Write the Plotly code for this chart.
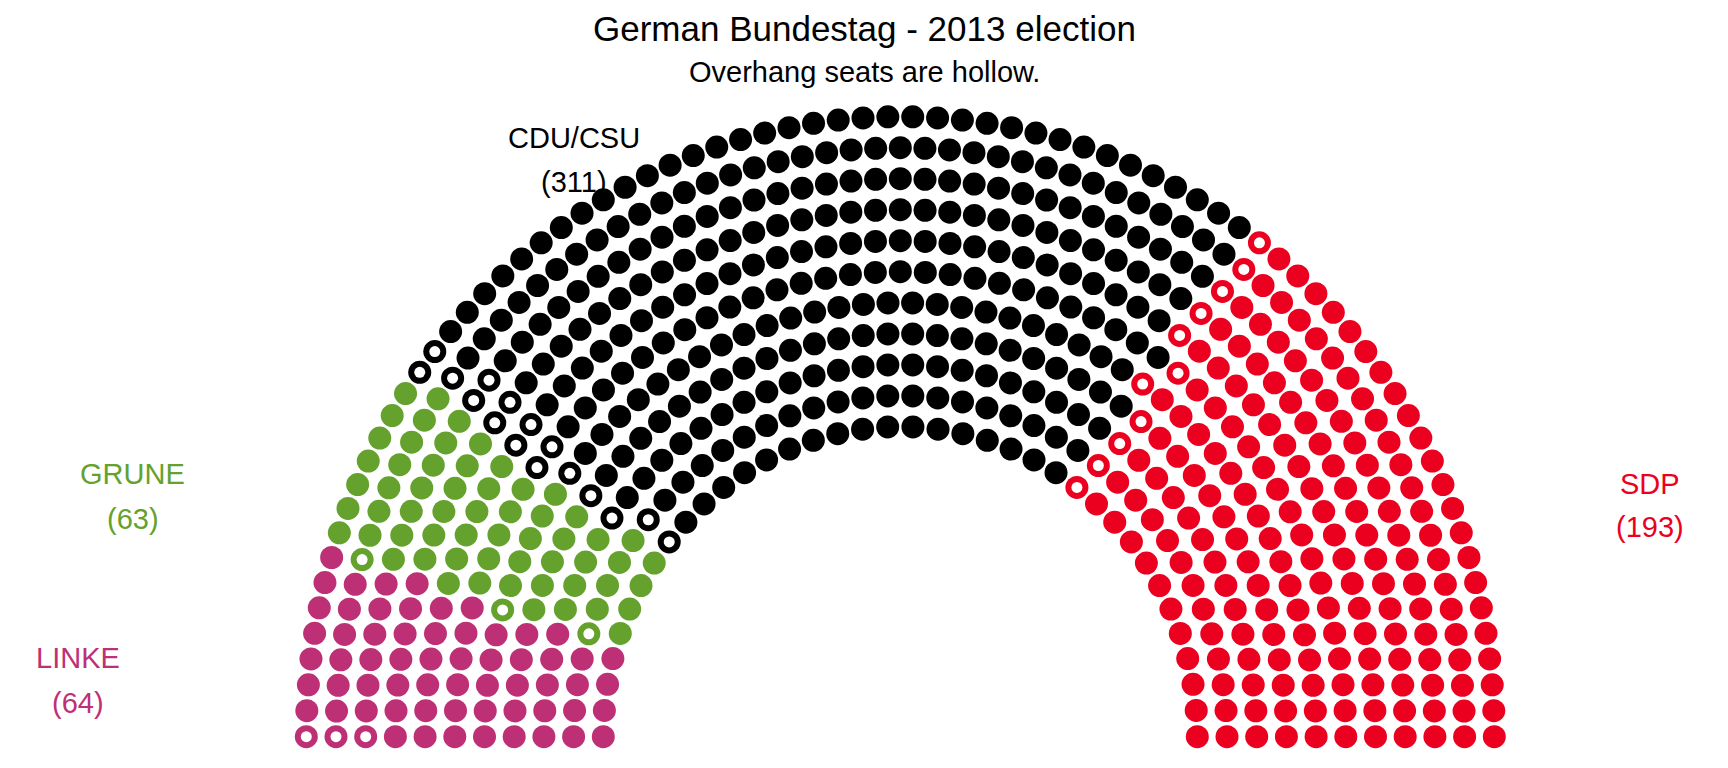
import numpy as np
import plotly.graph_objects as go

# ---- data ----
parties = ["LINKE", "GRUNE", "CDU/CSU", "SDP"]
seats = [64, 63, 311, 193]
overhang = [3, 3, 16, 11]
colors = ["#BE3075", "#64A12D", "#000000", "#EB001F"]
parl_rows = 11
title_text = "German Bundestag - 2013 election"
subtitle_text = "Overhang seats are hollow."

# label anchor positions in data units: (x, y_name, y_count)
label_pos = [(-2.769, 0.255, 0.109), (-2.584, 0.847, 0.702),
             (-1.099, 1.930, 1.788), (2.524, 0.815, 0.677)]


def calc_coordinates(N, M, limits=(1.0, 2.0), segment=0.5):
    radii = np.linspace(limits[0], limits[1], M)
    pts = []
    for i in range(M):
        c = int(round(float(N * radii[i] / radii[i:].sum())))
        theta = np.linspace(0, segment * 2 * np.pi, c)
        N -= c
        for t in theta:
            pts.append((radii[i] * np.cos(t), radii[i] * np.sin(t), i + 1, t))
    pts.sort(key=lambda p: (-p[3], -p[2]))
    return pts


pts = calc_coordinates(sum(seats), parl_rows)

fig = go.Figure()
idx = 0
hx, hy = [], []
for k, (p, n) in enumerate(zip(parties, seats)):
    sub = pts[idx: idx + n]
    idx += n
    xs = [q[0] for q in sub]
    ys = [q[1] for q in sub]
    fig.add_trace(go.Scatter(x=xs, y=ys, mode="markers", name=p,
                             marker=dict(size=23, color=colors[k], line=dict(width=0)),
                             showlegend=False, hoverinfo="skip"))
    hx += xs[:overhang[k]]
    hy += ys[:overhang[k]]

fig.add_trace(go.Scatter(x=hx, y=hy, mode="markers",
                         marker=dict(size=11, color="white", line=dict(width=0)),
                         showlegend=False, hoverinfo="skip"))

font_family = "Liberation Sans, Arial, Helvetica, sans-serif"
ann = []
for k, p in enumerate(parties):
    lx, ly1, ly2 = label_pos[k]
    ann.append(dict(x=lx, y=ly1, xref="x", yref="y", text=p, showarrow=False,
                    font=dict(size=29, color=colors[k], family=font_family),
                    xanchor="center", yanchor="middle"))
    ann.append(dict(x=lx, y=ly2, xref="x", yref="y", text=f"({seats[k]})", showarrow=False,
                    font=dict(size=29, color=colors[k], family=font_family),
                    xanchor="center", yanchor="middle"))

ann.append(dict(x=0.5, y=1 - 28 / 768, xref="paper", yref="paper", text=title_text,
                showarrow=False, font=dict(size=35, color="black", family=font_family),
                xanchor="center", yanchor="middle"))
ann.append(dict(x=0.5, y=1 - 72 / 768, xref="paper", yref="paper", text=subtitle_text,
                showarrow=False, font=dict(size=29, color="black", family=font_family),
                xanchor="center", yanchor="middle"))

cx, cy, sx, sy = 900.3, 736.7, 297.0, 310.0
fig.update_layout(
    width=1728, height=768, autosize=False,
    margin=dict(l=0, r=0, t=0, b=0),
    paper_bgcolor="white", plot_bgcolor="white",
    xaxis=dict(range=[-cx / sx, (1728 - cx) / sx], visible=False, fixedrange=True),
    yaxis=dict(range=[(cy - 768) / sy, cy / sy], visible=False, fixedrange=True),
    annotations=ann,
)

fig.write_html("out.html")
